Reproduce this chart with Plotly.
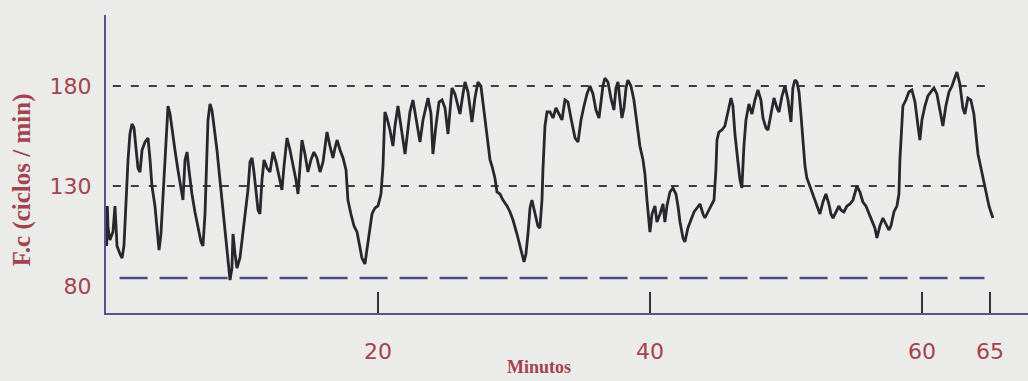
import plotly.graph_objects as go

# Heart-rate record (minutes vs beats per minute)
minutes = [
    0.00, 0.05, 0.10, 0.15, 0.29, 0.51, 0.66, 0.81, 1.03, 1.18, 1.32, 1.47, 1.62, 1.76, 1.91,
    2.06, 2.21, 2.35, 2.50, 2.65, 2.87, 3.09, 3.24, 3.38, 3.60, 3.75, 3.90, 4.04, 4.19, 4.34,
    4.49, 4.56, 4.71, 4.85, 5.07, 5.29, 5.51, 5.66, 5.81, 5.96, 6.10, 6.32, 6.54, 6.76, 6.99,
    7.13, 7.28, 7.43, 7.50, 7.65, 7.79, 7.94, 8.16, 8.38, 8.60, 8.82, 8.97, 9.12, 9.26, 9.34,
    9.49, 9.63, 9.85, 10.07, 10.29, 10.44, 10.59, 10.74, 10.88, 11.03, 11.18, 11.32, 11.47, 11.62, 11.84,
    12.06, 12.28, 12.50, 12.72, 12.94, 13.09, 13.31, 13.53, 13.75, 13.97, 14.12, 14.26, 14.41, 14.63, 14.85,
    15.07, 15.29, 15.51, 15.74, 15.96, 16.10, 16.25, 16.47, 16.69, 16.84, 16.99, 17.21, 17.43, 17.65, 17.79,
    18.01, 18.24, 18.46, 18.68, 18.82, 19.04, 19.19, 19.34, 19.56, 19.78, 20.00, 20.22, 20.37, 20.44, 20.51,
    20.66, 20.88, 21.10, 21.25, 21.47, 21.69, 21.84, 21.99, 22.21, 22.35, 22.57, 22.79, 22.94, 23.09, 23.31,
    23.53, 23.68, 23.90, 24.04, 24.26, 24.49, 24.71, 24.93, 25.15, 25.29, 25.44, 25.66, 25.88, 26.03, 26.25,
    26.40, 26.62, 26.91, 27.13, 27.35, 27.57, 27.79, 27.94, 28.09, 28.24, 28.38, 28.60, 28.75, 28.97, 29.19,
    29.49, 29.71, 29.93, 30.22, 30.44, 30.59, 30.74, 30.88, 31.03, 31.18, 31.32, 31.54, 31.76, 31.91, 32.06,
    32.13, 32.28, 32.43, 32.65, 32.87, 33.09, 33.31, 33.53, 33.75, 33.97, 34.19, 34.49, 34.71, 34.93, 35.15,
    35.37, 35.59, 35.81, 36.03, 36.25, 36.40, 36.54, 36.69, 36.91, 37.13, 37.35, 37.50, 37.65, 37.79, 37.94,
    38.09, 38.24, 38.38, 38.60, 38.82, 39.04, 39.26, 39.49, 39.63, 39.78, 39.93, 40.00, 40.15, 40.37, 40.51,
    40.74, 40.96, 41.10, 41.25, 41.47, 41.69, 41.91, 42.06, 42.21, 42.43, 42.57, 42.79, 43.01, 43.24, 43.46,
    43.68, 43.90, 44.04, 44.26, 44.49, 44.71, 44.85, 44.93, 45.07, 45.29, 45.51, 45.74, 45.96, 46.10, 46.25,
    46.47, 46.62, 46.76, 46.91, 47.06, 47.28, 47.50, 47.72, 47.94, 48.16, 48.31, 48.53, 48.68, 48.90, 49.12,
    49.34, 49.49, 49.71, 49.93, 50.15, 50.37, 50.51, 50.66, 50.81, 50.96, 51.10, 51.25, 51.40, 51.54, 51.76,
    51.99, 52.28, 52.50, 52.72, 52.94, 53.16, 53.31, 53.46, 53.68, 53.90, 54.04, 54.26, 54.49, 54.71, 54.93,
    55.22, 55.44, 55.66, 55.88, 56.10, 56.32, 56.54, 56.69, 56.91, 57.13, 57.35, 57.57, 57.72, 57.94, 58.16,
    58.31, 58.38, 58.46, 58.60, 58.82, 59.04, 59.26, 59.49, 59.71, 59.85, 60.00, 60.22, 60.44, 60.66, 60.88,
    61.10, 61.32, 61.54, 61.76, 61.99, 62.21, 62.43, 62.57, 62.79, 63.01, 63.16, 63.38, 63.60, 63.82, 63.97,
    64.12, 64.34, 64.49, 64.71, 64.93, 65.07, 65.22,
]
fc = [
    116, 100, 120, 109, 103, 107, 120, 100, 96, 94, 100, 126, 143, 156, 161,
    159, 150, 139, 137, 148, 152, 154, 143, 130, 120, 110, 98, 106, 126, 148,
    168, 170, 166, 158, 148, 138, 128, 123, 143, 147, 138, 126, 117, 109, 102,
    100, 116, 148, 163, 171, 168, 160, 148, 133, 118, 100, 90, 83, 89, 106,
    96, 89, 94, 106, 118, 128, 142, 144, 137, 126, 118, 116, 133, 143, 139,
    137, 147, 142, 134, 128, 140, 154, 148, 141, 133, 126, 140, 153, 146, 137,
    143, 147, 144, 137, 142, 150, 157, 150, 144, 149, 153, 148, 144, 138, 123,
    116, 110, 107, 98, 94, 91, 98, 107, 116, 119, 120, 126, 140, 154, 167,
    164, 158, 150, 160, 170, 161, 153, 146, 158, 167, 173, 164, 156, 152, 163,
    170, 174, 166, 146, 160, 172, 173, 169, 156, 168, 179, 176, 170, 166, 176,
    182, 177, 162, 174, 182, 180, 168, 158, 149, 143, 140, 134, 127, 126, 123,
    120, 117, 113, 106, 99, 96, 92, 96, 106, 119, 123, 117, 110, 109, 123,
    138, 160, 167, 167, 164, 169, 166, 163, 173, 172, 164, 154, 152, 163, 170,
    176, 180, 176, 168, 164, 172, 180, 184, 182, 174, 168, 179, 182, 173, 164,
    169, 179, 183, 180, 173, 160, 150, 143, 136, 123, 112, 107, 116, 120, 112,
    116, 121, 112, 120, 127, 129, 126, 120, 112, 104, 102, 109, 113, 117, 119,
    121, 116, 114, 117, 120, 123, 138, 153, 157, 158, 160, 167, 174, 170, 156,
    142, 133, 129, 150, 163, 171, 166, 173, 178, 173, 164, 159, 158, 167, 174,
    169, 167, 175, 180, 173, 162, 179, 183, 182, 177, 166, 152, 140, 134, 130,
    125, 120, 116, 122, 126, 121, 116, 114, 117, 120, 118, 117, 120, 121, 123,
    130, 127, 122, 120, 116, 113, 109, 104, 110, 114, 111, 108, 110, 117, 120,
    126, 143, 153, 170, 173, 177, 178, 172, 160, 153, 163, 170, 175, 177, 179,
    176, 168, 160, 170, 177, 180, 184, 187, 181, 169, 166, 174, 173, 166, 156,
    146, 139, 134, 128, 120, 117, 114,
]

# Axis ticks
tick_minutes = [20, 40, 60, 65]
tick_fc = [80, 130, 180]

# Reference levels drawn across the record
upper_level = 180
middle_level = 130
floor_level = 84
guide_span = [0.5, 65.0]
floor_span = [1.0, 64.6]

label_red = "#a3434f"
axis_blue = "#55558c"

fig = go.Figure()

for level in (upper_level, middle_level):
    fig.add_trace(go.Scatter(
        x=guide_span, y=[level, level], mode="lines",
        line=dict(color="#3e3e44", width=2, dash="8px,10px"),
        hoverinfo="skip", showlegend=False,
    ))

fig.add_trace(go.Scatter(
    x=floor_span, y=[floor_level, floor_level], mode="lines",
    line=dict(color="#4c4c8a", width=2.5, dash="28px,12px"),
    hoverinfo="skip", showlegend=False,
))

fig.add_trace(go.Scatter(
    x=minutes, y=fc, mode="lines",
    line=dict(color="#27272e", width=2.8),
    showlegend=False,
))

fig.update_layout(
    width=1028, height=381,
    margin=dict(l=106, r=0, t=15, b=68),
    paper_bgcolor="#ebebea",
    plot_bgcolor="#ebebea",
    xaxis=dict(
        range=[0, 67.8],
        showgrid=False, zeroline=False,
        showline=True, linecolor=axis_blue, linewidth=2,
        ticks="inside", ticklen=21, tickwidth=1.6, tickcolor="#333338",
        tickvals=tick_minutes,
        tickfont=dict(family="DejaVu Sans", size=22, color=label_red),
        ticklabelstandoff=18,
    ),
    yaxis=dict(
        range=[66.5, 215.5],
        showgrid=False, zeroline=False,
        showline=True, linecolor=axis_blue, linewidth=2,
        ticks="",
        tickvals=tick_fc,
        tickfont=dict(family="DejaVu Sans", size=22, color=label_red),
        ticklabelstandoff=8,
    ),
    annotations=[
        dict(
            text="<b>F.c (ciclos / min)</b>", textangle=-90,
            xref="paper", yref="paper", x=-0.091, y=0.446,
            xanchor="center", yanchor="middle", showarrow=False,
            font=dict(family="Liberation Serif", size=25, color=label_red),
        ),
        dict(
            text="<b>Minutos</b>",
            xref="paper", yref="paper", x=0.47, y=-0.18,
            xanchor="center", yanchor="middle", showarrow=False,
            font=dict(family="Liberation Serif", size=18, color=label_red),
        ),
    ],
)

fig.write_html("out.html")
